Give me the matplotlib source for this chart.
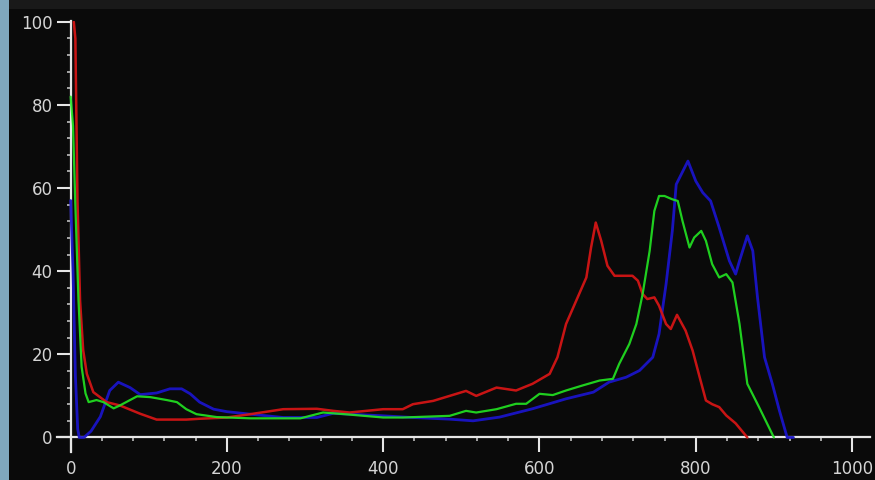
import matplotlib
matplotlib.use("Agg")
import matplotlib.pyplot as plt
from matplotlib.patches import Rectangle
from matplotlib.ticker import MultipleLocator

red_x = [4, 6, 8.7, 12, 16, 20.7, 29, 46, 63, 89, 110, 148, 165, 200, 230, 272, 315, 336, 357,
         400, 425, 438, 464, 485, 506, 519, 545, 570, 591, 613, 623, 634, 647, 660, 666, 672,
         679, 687, 696, 719, 726, 732, 738, 747, 753, 762, 768, 776, 787, 796, 805, 813, 821,
         830, 839, 851, 866]
red_y = [100, 96, 57, 33, 21, 15.3, 10.9, 8.5, 7.7, 5.7, 4.3, 4.3, 4.5, 4.8, 5.6, 6.8, 6.9, 6.4, 6.0,
         6.8, 6.8, 8.0, 8.8, 10, 11.2, 10, 12, 11.3, 12.9, 15.3, 19.3, 27.3, 32.9, 38.5, 45.7, 51.7,
         47.3, 41.3, 38.9, 38.9, 37.7, 34.5, 33.3, 33.7, 31.7, 27.3, 26.1, 29.5, 25.7, 20.9, 14.5, 8.9, 8.0,
         7.3, 5.3, 3.4, 0]

green_x = [0, 3, 5.8, 10, 14, 19, 23, 33, 42, 55, 63, 85, 102, 123, 136, 148, 161, 187, 230, 294,
           323, 357, 400, 425, 485, 506, 519, 545, 570, 583, 600, 617, 634, 655, 677, 694, 702,
           715, 724, 732, 741, 747, 753, 760, 770, 777, 783, 792, 798, 807, 813, 821, 830, 839,
           847, 856, 866, 881, 900]
green_y = [82, 75, 57, 33, 17, 10.6, 8.5, 9, 8.5, 7.0, 7.7, 9.9, 9.7, 9, 8.5, 6.8, 5.6, 4.9, 4.6, 4.6,
           6.0, 5.5, 4.8, 4.8, 5.2, 6.4, 6, 6.8, 8.1, 8.1, 10.5, 10.2, 11.3, 12.5, 13.7, 14.1, 17.7,
           22.5, 27.3, 34.5, 44.9, 54.5, 58.1, 58.1, 57.3, 56.9, 52.1, 45.7, 48.1, 49.7, 47.3, 41.7, 38.5, 39.3,
           37.3, 27.3, 12.9, 7.3, 0]

blue_x = [0, 3, 6, 9, 11, 17, 26, 38, 50, 61, 76, 89, 110, 127, 142, 153, 165, 183, 200, 230, 272,
          315, 336, 400, 438, 485, 515, 549, 591, 634, 669, 689, 711, 728, 745, 753, 762, 770,
          775, 790, 800, 809, 819, 830, 843, 851, 856, 866, 873, 879, 888, 898, 907, 917, 925]
blue_y = [57, 40, 15, 2, 0, 0, 1.5, 5, 11.3, 13.3, 12, 10.3, 10.7, 11.7, 11.7, 10.5, 8.5, 6.8, 6.2, 5.6, 4.8,
          4.8, 5.8, 5.2, 4.8, 4.4, 4.0, 4.9, 6.9, 9.3, 10.9, 13.3, 14.5, 16.1, 19.3, 24.9, 36.9, 49.7,
          60.9, 66.5, 61.7, 58.9, 56.9, 50.5, 42.5, 39.3, 42.5, 48.5, 44.9, 33.7, 19.3, 12.9, 6.5, 0, 0]

x_ticks = [0, 200, 400, 600, 800, 1000]
y_ticks = [0, 20, 40, 60, 80, 100]

BG = "#0a0a0a"
FG = "#e6e6e6"
LBL = "#d4d4d4"

fig = plt.figure(figsize=(8.75, 4.8), dpi=100, facecolor=BG)
# top band and left strip from the original screenshot
fig.patches.append(Rectangle((0, 1 - 9 / 480), 1, 9 / 480, transform=fig.transFigure,
                             facecolor="#191919", edgecolor="none", zorder=0))
fig.patches.append(Rectangle((0, 0), 9 / 875, 1, transform=fig.transFigure,
                             facecolor="#7fa7bd", edgecolor="none", zorder=0))

ax = fig.add_axes([57 / 875, 28 / 480, (870 - 57) / 875, (452 - 21) / 480])
ax.set_facecolor(BG)
ax.set_xlim(-17.5, 1023)
ax.set_ylim(-3.5, 100.2)

kw = dict(solid_joinstyle="round", solid_capstyle="round")
ax.plot(blue_x, blue_y, color="#1a14c8", lw=2.0, alpha=0.95, zorder=3, **kw)
ax.plot(red_x, red_y, color="#d41515", lw=1.8, alpha=0.95, zorder=4, **kw)
ax.plot(green_x, green_y, color="#22e622", lw=1.6, alpha=0.9, zorder=5, **kw)

for s in ["top", "right"]:
    ax.spines[s].set_visible(False)
ax.spines["left"].set_position(("data", 0))
ax.spines["bottom"].set_position(("data", 0))
for s in ["left", "bottom"]:
    ax.spines[s].set_color(FG)
    ax.spines[s].set_linewidth(1.6)
    ax.spines[s].set_zorder(2)

ax.set_xticks(x_ticks)
ax.set_yticks(y_ticks)
ax.xaxis.set_minor_locator(MultipleLocator(40))
ax.yaxis.set_minor_locator(MultipleLocator(4))
ax.tick_params(axis="x", which="major", direction="out", length=11, width=1.5,
               color=FG, labelcolor=LBL, labelsize=12, pad=5)
ax.tick_params(axis="y", which="major", direction="out", length=10, width=1.5,
               color=FG, labelcolor=LBL, labelsize=12, pad=3)
ax.tick_params(axis="both", which="minor", direction="out", length=3, width=1.2, color="#bdbdbd")

fig.savefig("out.png", dpi=100, facecolor=BG)
